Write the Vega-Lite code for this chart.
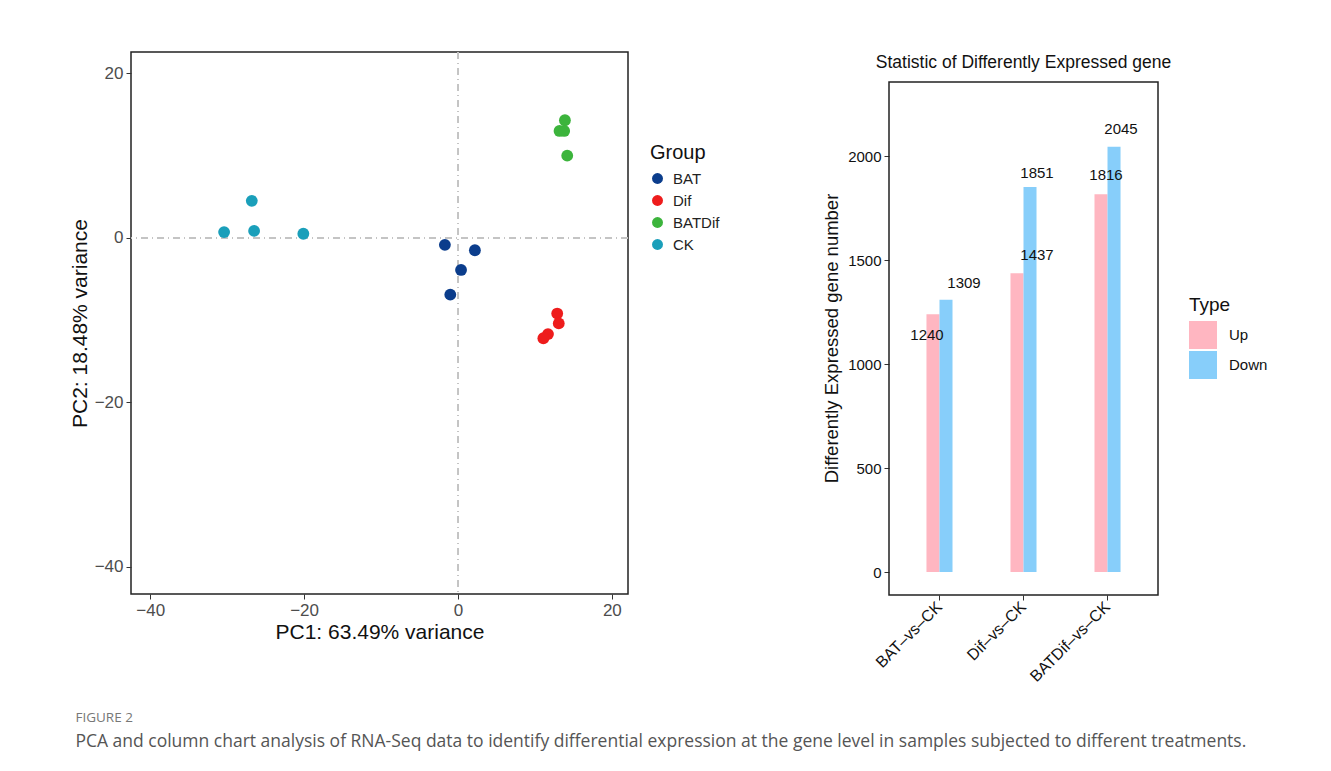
{
  "$schema": "https://vega.github.io/schema/vega-lite/v6.json",
  "padding": {"left": 68, "top": 50, "right": 5, "bottom": 5},
  "background": "white",
  "config": {
    "font": "Liberation Sans",
    "view": {"stroke": "#222", "strokeWidth": 1.5},
    "axis": {"grid": false, "domain": false, "tickColor": "#333", "tickSize": 5, "labelPadding": 3}
  },
  "title": {
    "text": "FIGURE 2",
    "subtitle": "PCA and column chart analysis of RNA-Seq data to identify differential expression at the gene level in samples subjected to different treatments.",
    "orient": "bottom",
    "anchor": "start",
    "offset": 27,
    "dx": 7,
    "font": "Open Sans",
    "fontSize": 13.5,
    "fontWeight": "normal",
    "color": "#777",
    "subtitleFont": "Open Sans",
    "subtitleFontSize": 17.5,
    "subtitleColor": "#555",
    "subtitlePadding": 8
  },
  "spacing": 101,
  "hconcat": [
    {
      "width": 497,
      "height": 542,
      "data": {"values": [
        {"PC1": -30.4, "PC2": 0.7, "Group": "CK"},
        {"PC1": -26.8, "PC2": 4.5, "Group": "CK"},
        {"PC1": -26.5, "PC2": 0.85, "Group": "CK"},
        {"PC1": -20.1, "PC2": 0.5, "Group": "CK"},
        {"PC1": -1.7, "PC2": -0.85, "Group": "BAT"},
        {"PC1": 2.2, "PC2": -1.5, "Group": "BAT"},
        {"PC1": 0.4, "PC2": -3.9, "Group": "BAT"},
        {"PC1": -1.0, "PC2": -6.9, "Group": "BAT"},
        {"PC1": 12.9, "PC2": -9.2, "Group": "Dif"},
        {"PC1": 13.1, "PC2": -10.4, "Group": "Dif"},
        {"PC1": 11.7, "PC2": -11.7, "Group": "Dif"},
        {"PC1": 11.1, "PC2": -12.2, "Group": "Dif"},
        {"PC1": 13.9, "PC2": 14.3, "Group": "BATDif"},
        {"PC1": 13.2, "PC2": 13.0, "Group": "BATDif"},
        {"PC1": 13.8, "PC2": 13.0, "Group": "BATDif"},
        {"PC1": 14.2, "PC2": 10.0, "Group": "BATDif"}
      ]},
      "layer": [
        {
          "mark": {"type": "rule", "color": "#c4c4c4", "strokeDash": [7, 4, 1, 4], "strokeWidth": 1.2},
          "encoding": {"x": {"datum": 0, "type": "quantitative"}}
        },
        {
          "mark": {"type": "rule", "color": "#c4c4c4", "strokeDash": [7, 4, 1, 4], "strokeWidth": 1.2},
          "encoding": {"y": {"datum": 0, "type": "quantitative"}}
        },
        {
          "mark": {"type": "circle", "size": 140, "opacity": 1},
          "encoding": {
            "x": {
              "field": "PC1", "type": "quantitative",
              "scale": {"domain": [-42.5, 22.1], "nice": false, "zero": false},
              "axis": {"values": [-40, -20, 0, 20], "title": "PC1: 63.49% variance", "titleFontSize": 21, "titleFontWeight": "normal", "titleColor": "#111", "labelFontSize": 17, "labelColor": "#4d4d4d", "titlePadding": 3}
            },
            "y": {
              "field": "PC2", "type": "quantitative",
              "scale": {"domain": [-43.3, 22.6], "nice": false, "zero": false},
              "axis": {"values": [-40, -20, 0, 20], "title": "PC2: 18.48% variance", "titleFontSize": 21, "titleFontWeight": "normal", "titleColor": "#111", "labelFontSize": 17, "labelColor": "#4d4d4d", "titlePadding": 4}
            },
            "color": {
              "field": "Group", "type": "nominal",
              "scale": {"domain": ["BAT", "Dif", "BATDif", "CK"], "range": ["#0b3d8c", "#ee1c1c", "#3cb43c", "#1a9fba"]},
              "legend": {"orient": "none", "legendX": 519, "legendY": 91, "title": "Group", "titleFontSize": 20, "titleFontWeight": "normal", "titleColor": "#111", "titlePadding": 8, "labelFontSize": 15, "labelColor": "#222", "symbolType": "circle", "symbolSize": 120, "rowPadding": 6, "labelOffset": 8}
            }
          }
        }
      ]
    },
    {
      "width": 269,
      "height": 543,
      "view": {"stroke": null},
      "title": {"text": "Statistic of Differently Expressed gene", "fontSize": 17.5, "fontWeight": "normal", "color": "#111", "offset": -19},
      "data": {"values": [
        {"Comparison": "BAT-vs-CK", "Type": "Up", "Number": 1240},
        {"Comparison": "BAT-vs-CK", "Type": "Down", "Number": 1309},
        {"Comparison": "Dif-vs-CK", "Type": "Up", "Number": 1437},
        {"Comparison": "Dif-vs-CK", "Type": "Down", "Number": 1851},
        {"Comparison": "BATDif-vs-CK", "Type": "Up", "Number": 1816},
        {"Comparison": "BATDif-vs-CK", "Type": "Down", "Number": 2045}
      ]},
      "layer": [
        {
          "data": {"values": [{"box": 1}]},
          "mark": {"type": "rect", "fill": null, "stroke": "#222", "strokeWidth": 1.5},
          "encoding": {
            "x": {"datum": 0, "type": "quantitative", "scale": {"domain": [0, 1], "nice": false, "zero": false}, "axis": null},
            "x2": {"datum": 1},
            "y": {"datum": 2356, "type": "quantitative", "scale": {"domain": [-110, 2500], "nice": false, "zero": false}},
            "y2": {"datum": -110}
          }
        },
        {
          "encoding": {
            "x": {
              "field": "Comparison", "type": "nominal",
              "sort": ["BAT-vs-CK", "Dif-vs-CK", "BATDif-vs-CK"],
              "scale": {"paddingInner": 0.69, "paddingOuter": 0.446},
              "axis": {"title": null, "labelAngle": -45, "labelFontSize": 16, "labelColor": "#111", "labelAlign": "right", "labelBaseline": "middle", "labelPadding": 4, "labelExpr": "join(split(datum.label, '-'), '–')"}
            },
            "xOffset": {"field": "Type", "type": "nominal", "sort": ["Up", "Down"], "scale": {"paddingInner": 0, "paddingOuter": 0}},
            "y": {
              "field": "Number", "type": "quantitative",
              "axis": {"values": [0, 500, 1000, 1500, 2000], "format": "d", "title": "Differently Expressed gene number", "titleFontSize": 18.5, "titleFontWeight": "normal", "titleColor": "#111", "labelFontSize": 15, "labelColor": "#111", "titlePadding": 6, "titleY": 286}
            }
          },
          "layer": [
            {
              "mark": {"type": "bar"},
              "encoding": {
                "y2": {"datum": 0},
                "color": {
                  "field": "Type", "type": "nominal",
                  "scale": {"domain": ["Up", "Down"], "range": ["#FFB6C1", "#87CEFA"]},
                  "legend": {"orient": "none", "legendX": 300, "legendY": 244, "title": "Type", "titleFontSize": 19, "titleFontWeight": "normal", "titleColor": "#111", "titlePadding": 6, "labelFontSize": 15, "labelColor": "#111", "symbolType": "square", "symbolSize": 784, "symbolStrokeWidth": 0, "rowPadding": 2, "labelOffset": 12}
                }
              }
            },
            {
              "transform": [{"filter": "datum.Type === 'Down' && datum.Comparison === 'BAT-vs-CK'"}],
              "mark": {"type": "text", "fontSize": 15, "color": "#111", "dx": 18, "dy": -17},
              "encoding": {"text": {"field": "Number", "type": "quantitative"}}
            },
            {
              "transform": [{"filter": "datum.Type === 'Down' && datum.Comparison === 'Dif-vs-CK'"}],
              "mark": {"type": "text", "fontSize": 15, "color": "#111", "dx": 7, "dy": -14},
              "encoding": {"text": {"field": "Number", "type": "quantitative"}}
            },
            {
              "transform": [{"filter": "datum.Type === 'Down' && datum.Comparison === 'BATDif-vs-CK'"}],
              "mark": {"type": "text", "fontSize": 15, "color": "#111", "dx": 7, "dy": -18},
              "encoding": {"text": {"field": "Number", "type": "quantitative"}}
            },
            {
              "transform": [{"filter": "datum.Type === 'Up' && datum.Comparison === 'Dif-vs-CK'"}],
              "mark": {"type": "text", "fontSize": 15, "color": "#111", "dx": 20, "dy": -18},
              "encoding": {"text": {"field": "Number", "type": "quantitative"}}
            },
            {
              "transform": [{"filter": "datum.Type === 'Up' && datum.Comparison === 'BATDif-vs-CK'"}],
              "mark": {"type": "text", "fontSize": 15, "color": "#111", "dx": 5, "dy": -19},
              "encoding": {"text": {"field": "Number", "type": "quantitative"}}
            },
            {
              "transform": [{"filter": "datum.Type === 'Up' && datum.Comparison === 'BAT-vs-CK'"}],
              "mark": {"type": "text", "fontSize": 15, "color": "#111", "dx": -6, "dy": 21},
              "encoding": {"text": {"field": "Number", "type": "quantitative"}}
            }
          ]
        }
      ],
      "resolve": {"scale": {"x": "independent"}, "axis": {"x": "independent"}}
    }
  ],
  "resolve": {"scale": {"color": "independent"}}
}
